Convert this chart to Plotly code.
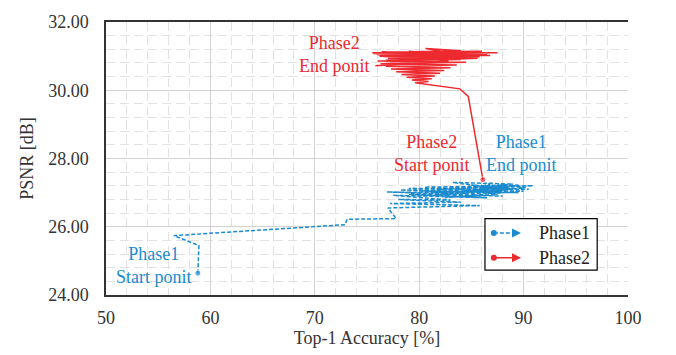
import plotly.graph_objects as go

BLUE = "#1B8BD0"
RED = "#EC2A30"

# Phase1 trajectory (Top-1 accuracy %, PSNR dB)
phase1_x = [58.8, 58.9, 56.5, 72.9, 73.1, 77.8, 77.0,
            85.8, 77.2, 84.0, 78.0, 83.0, 77.5, 86.5, 79.0, 88.0, 76.9, 84.5, 78.2, 89.5,
            80.0, 90.5, 79.0, 87.0, 81.0, 88.5, 80.5, 90.9, 82.0, 89.0, 83.2, 88.0, 81.5,
            90.0, 82.5, 87.5, 83.5, 89.5, 84.5, 88.8, 85.0, 90.2, 84.0, 87.8, 85.5, 89.0,
            86.5, 88.2, 86.0, 87.0, 86.2]
phase1_y = [24.64, 25.45, 25.74, 26.06, 26.22, 26.24, 26.55,
            26.62, 26.68, 26.72, 26.80, 26.78, 26.92, 26.85, 26.95, 26.90, 27.02, 26.98, 27.08, 27.00,
            27.05, 27.10, 27.12, 27.06, 26.90, 27.15, 27.16, 27.20, 27.10, 27.25, 27.30, 27.10, 27.00,
            27.05, 26.85, 26.95, 27.12, 27.22, 27.05, 27.10, 27.22, 27.15, 26.95, 27.02, 27.20, 27.12,
            27.00, 27.25, 27.10, 27.30, 27.20]

# Phase2 trajectory
phase2_x = [86.1, 84.7, 83.9, 80.1, 79.6, 80.9, 79.3, 81.2, 78.8, 81.5, 78.3, 82.0,
            77.8, 82.4, 77.3, 83.0, 76.8, 83.6, 76.3, 84.5, 76.0, 84.0, 77.0, 85.8,
            76.2, 86.5, 75.8, 85.0, 75.5, 87.5, 76.5, 86.0, 78.0, 84.0, 80.6, 82.5,
            77.0, 85.5, 76.0, 87.0, 75.6, 86.8, 76.4, 85.2, 77.5, 84.8, 79.0, 83.5,
            76.8, 84.2, 77.2, 85.6, 76.6, 84.6, 78.5, 82.8, 75.8]
phase2_y = [27.38, 29.82, 30.04, 30.18, 30.22, 30.26, 30.30, 30.34, 30.38, 30.42, 30.46, 30.50,
            30.54, 30.58, 30.62, 30.66, 30.70, 30.74, 30.78, 30.82, 30.86, 30.90, 30.94, 30.98,
            31.00, 31.04, 31.06, 31.08, 31.10, 31.10, 31.12, 31.14, 31.12, 31.16, 31.22, 31.12,
            31.08, 31.06, 31.04, 31.10, 31.08, 31.02, 31.12, 30.96, 31.06, 31.00, 31.14, 30.92,
            30.88, 31.02, 30.84, 30.94, 30.98, 31.08, 31.04, 30.86, 30.72]

x_ticks = [50, 60, 70, 80, 90, 100]
y_ticks = [24, 26, 28, 30, 32]

FONT = "Times New Roman, Liberation Serif, Tinos, serif"

fig = go.Figure()
fig.add_trace(go.Scatter(
    x=phase1_x, y=phase1_y, mode="lines+markers", name="Phase1",
    line=dict(color=BLUE, width=1.5, dash="4px,2px"),
    marker=dict(color=BLUE, size=[6] + [0] * (len(phase1_x) - 1)),
    showlegend=False))
fig.add_trace(go.Scatter(
    x=phase2_x, y=phase2_y, mode="lines+markers", name="Phase2",
    line=dict(color=RED, width=1.5),
    marker=dict(color=RED, size=[6] + [0] * (len(phase2_x) - 1)),
    showlegend=False))

# text annotations
notes = [
    (54.6, 24.87, "Phase1<br>Start ponit", BLUE),
    (89.8, 28.14, "Phase1<br>End ponit", BLUE),
    (81.2, 28.14, "Phase2<br>Start ponit", RED),
    (71.9, 31.05, "Phase2<br>End ponit", RED),
]
for x, y, t, c in notes:
    fig.add_annotation(x=x, y=y, text=t, showarrow=False,
                       font=dict(family=FONT, size=18, color=c), align="center")

# manual legend
shapes = [dict(type="rect", xref="paper", yref="paper", x0=0.726, x1=0.941, y0=0.091, y1=0.280,
               line=dict(color="black", width=1.2), fillcolor="white", layer="above")]
for yy, col, dash, name in [(0.2273, BLUE, "4px,2px", "Phase1"), (0.1364, RED, "solid", "Phase2")]:
    shapes.append(dict(type="line", xref="paper", yref="paper", x0=0.743, x1=0.785, y0=yy, y1=yy,
                       line=dict(color=col, width=1.5, dash=dash), layer="above"))
    shapes.append(dict(type="circle", xref="paper", yref="paper", xsizemode="pixel", ysizemode="pixel",
                       xanchor=0.743, yanchor=yy, x0=-3, x1=3, y0=-3, y1=3,
                       fillcolor=col, line=dict(color=col, width=0), layer="above"))
    fig.add_annotation(xref="paper", yref="paper", x=0.795, y=yy, ax=-7, ay=0, text="",
                       showarrow=True, arrowhead=2, arrowsize=1.2, arrowwidth=1.5, arrowcolor=col)
    fig.add_annotation(xref="paper", yref="paper", x=0.826, y=yy, text=name, showarrow=False,
                       xanchor="left", yanchor="middle",
                       font=dict(family=FONT, size=18, color="#222222"))

fig.update_layout(
    width=676, height=355,
    margin=dict(l=106, r=48, t=12, b=57),
    paper_bgcolor="white", plot_bgcolor="white",
    font=dict(family=FONT, size=18, color="#333333"),
    shapes=shapes,
    xaxis=dict(range=[50, 100], tickvals=x_ticks, ticktext=[str(v) for v in x_ticks],
               showline=True, linecolor="#333333", linewidth=1.5, mirror=True,
               showgrid=True, gridcolor="#d2d2d2", gridwidth=1, zeroline=False,
               ticks="", ticklabelstandoff=6,
               minor=dict(dtick=2, showgrid=True, gridcolor="#e2e2e2", griddash="9px,5px", ticks=""),
               title=dict(text="Top-1 Accuracy [%]", standoff=2, font=dict(family=FONT, size=18)),
               tickfont=dict(family=FONT, size=18)),
    yaxis=dict(range=[24, 32], tickvals=y_ticks, ticktext=[f"{v:.2f}" for v in y_ticks],
               showline=True, linecolor="#333333", linewidth=1.5,
               showgrid=True, gridcolor="#d2d2d2", gridwidth=1, zeroline=False,
               ticks="", ticklabelstandoff=12,
               minor=dict(dtick=0.4, showgrid=True, gridcolor="#e2e2e2", griddash="9px,5px", ticks=""),
               title=dict(text="PSNR [dB]", standoff=10, font=dict(family=FONT, size=18)),
               tickfont=dict(family=FONT, size=18)),
)

fig.write_html("out.html")
